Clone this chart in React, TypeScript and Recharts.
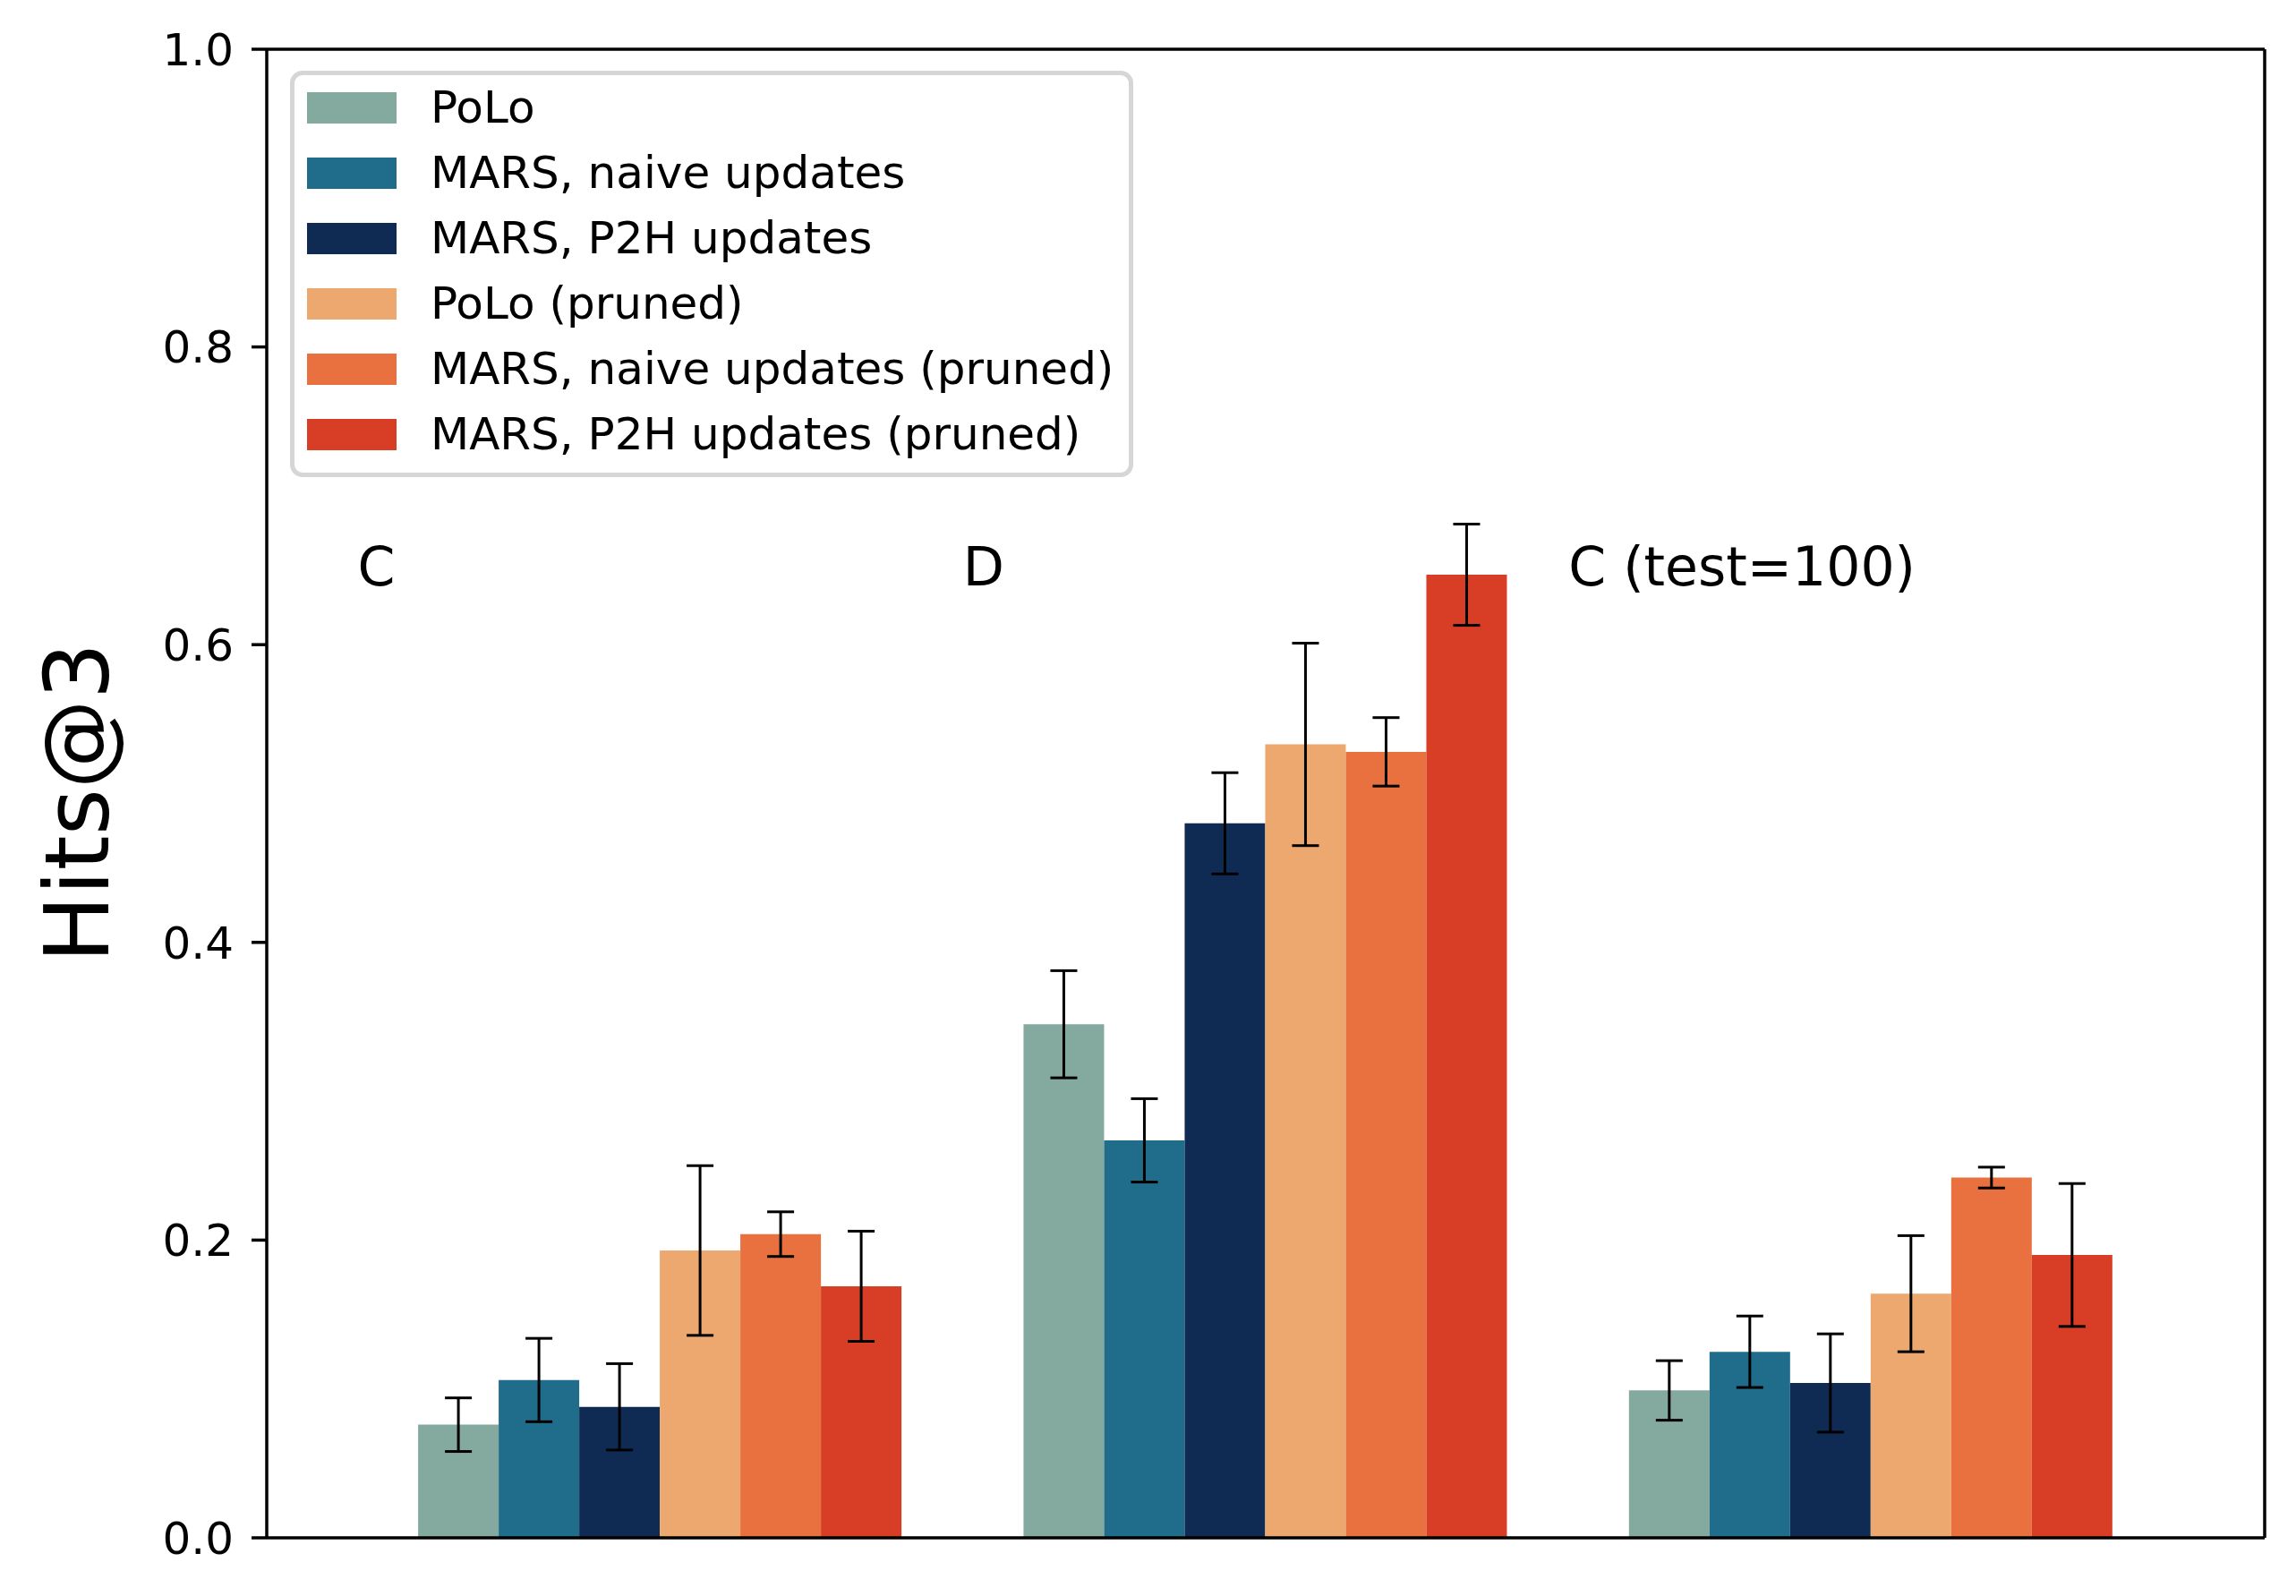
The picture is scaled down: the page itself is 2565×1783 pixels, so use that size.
import React from 'react';
import { BarChart, Bar, XAxis, YAxis, ErrorBar, ReferenceDot, Legend, Label } from 'recharts';

const FONT = '"DejaVu Sans", sans-serif';

const categories = ['C', 'D', 'C (test=100)'];
const categoryX = [0, 1, 2];
const groupLabelX = [-0.5, 0.5, 1.5];
const groupLabelY = 0.64;
const xDomain = [-0.65, 2.65];
const yTicks = [0, 0.2, 0.4, 0.6, 0.8, 1.0];

const seriesNames = [
  'PoLo',
  'MARS, naive updates',
  'MARS, P2H updates',
  'PoLo (pruned)',
  'MARS, naive updates (pruned)',
  'MARS, P2H updates (pruned)',
];
const seriesColors = ['#84a99f', '#1f6c8b', '#0f2b53', '#eda870', '#e9703f', '#d83d26'];

const poloValues = [0.076, 0.345, 0.099];
const naiveValues = [0.106, 0.267, 0.125];
const p2hValues = [0.088, 0.48, 0.104];
const poloPrunedValues = [0.193, 0.533, 0.164];
const naivePrunedValues = [0.204, 0.528, 0.242];
const p2hPrunedValues = [0.169, 0.647, 0.19];

const poloErrors = [0.018, 0.036, 0.02];
const naiveErrors = [0.028, 0.028, 0.024];
const p2hErrors = [0.029, 0.034, 0.033];
const poloPrunedErrors = [0.057, 0.068, 0.039];
const naivePrunedErrors = [0.015, 0.023, 0.007];
const p2hPrunedErrors = [0.037, 0.034, 0.048];

const seriesValues = [poloValues, naiveValues, p2hValues, poloPrunedValues, naivePrunedValues, p2hPrunedValues];
const seriesErrors = [poloErrors, naiveErrors, p2hErrors, poloPrunedErrors, naivePrunedErrors, p2hPrunedErrors];

const data = categories.map((c, i) => {
  const row: Record<string, any> = { x: categoryX[i], name: c };
  seriesValues.forEach((vals, s) => {
    row[`s${s}`] = vals[i];
    row[`e${s}`] = seriesErrors[s][i];
  });
  return row;
});

const LegendBox = () => (
  <div
    style={{
      width: 942,
      height: 454,
      boxSizing: 'border-box',
      border: '5px solid #d6d6d6',
      borderRadius: 14,
      background: 'rgba(255,255,255,0.8)',
      position: 'relative',
      fontFamily: FONT,
    }}
  >
    {seriesNames.map((n, i) => (
      <div
        key={n}
        style={{
          position: 'absolute',
          left: 14,
          top: 18.5 + i * 73.1,
          height: 35,
          display: 'flex',
          alignItems: 'center',
          whiteSpace: 'nowrap',
        }}
      >
        <div style={{ width: 100, height: 35, background: seriesColors[i] }} />
        <span style={{ marginLeft: 38, fontSize: 50, lineHeight: '35px', color: '#000' }}>{n}</span>
      </div>
    ))}
  </div>
);

const YLabel = (props: any) => {
  const vb = props.viewBox || { x: 98, y: 55, width: 200, height: 1663 };
  const cx = vb.x - 12;
  const cy = vb.y + vb.height / 2 + 10;
  return (
    <text
      x={cx}
      y={cy}
      transform={`rotate(-90, ${cx}, ${cy})`}
      textAnchor="middle"
      dominantBaseline="central"
      fontSize={100}
      fontFamily={FONT}
      fill="#000"
    >
      Hits@3
    </text>
  );
};

const spine = { stroke: '#000', strokeWidth: 3.5 };

export default function App() {
  return (
    <div style={{ position: 'absolute', left: 0, top: 0, background: '#fff' }}>
      <BarChart
        width={2565}
        height={1783}
        data={data}
        margin={{ top: 54, right: 34, bottom: 64, left: 98 }}
        barGap={0}
        barCategoryGap="10%"
        style={{ fontFamily: FONT }}
      >
        <XAxis
          dataKey="x"
          type="number"
          domain={xDomain}
          allowDataOverflow
          height={1}
          tick={false}
          tickLine={false}
          axisLine={spine}
        />
        <XAxis
          xAxisId="top"
          orientation="top"
          dataKey="x"
          type="number"
          domain={xDomain}
          allowDataOverflow
          height={1}
          tick={false}
          tickLine={false}
          axisLine={spine}
        />
        <YAxis
          domain={[0, 1]}
          ticks={yTicks}
          allowDataOverflow
          width={200}
          tickFormatter={(v: number) => v.toFixed(1)}
          tick={{ fontSize: 50, fill: '#000', fontFamily: FONT }}
          tickSize={17}
          tickMargin={20}
          tickLine={spine}
          axisLine={spine}
          interval={0}
          label={<Label content={YLabel} />}
        />
        <YAxis
          yAxisId="right"
          orientation="right"
          domain={[0, 1]}
          width={1}
          tick={false}
          tickLine={false}
          axisLine={spine}
        />
        <Legend
          layout="vertical"
          align="center"
          verticalAlign="middle"
          wrapperStyle={{ left: 324, top: 79, width: 942, height: 454 }}
          content={() => <LegendBox />}
        />
        {seriesNames.map((n, s) => (
          <Bar key={n} dataKey={`s${s}`} name={n} fill={seriesColors[s]} isAnimationActive={false}>
            <ErrorBar dataKey={`e${s}`} direction="y" width={15} stroke="#000" strokeWidth={3} isAnimationActive={false} />
          </Bar>
        ))}
        {categories.map((c, i) => (
          <ReferenceDot
            key={c}
            x={groupLabelX[i]}
            y={groupLabelY}
            r={0}
            ifOverflow="visible"
            shape={(p: any) => (
              <text x={p.cx} y={p.cy} fontSize={60} fontFamily={FONT} fill="#000" textAnchor="start">
                {c}
              </text>
            )}
          />
        ))}
      </BarChart>
    </div>
  );
}
